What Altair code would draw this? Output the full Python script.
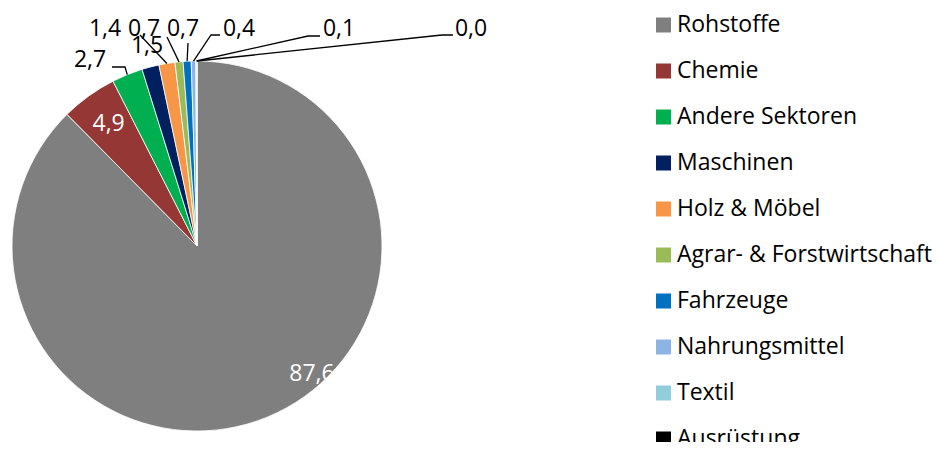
import math
import altair as alt
import pandas as pd

# ---- data ----
categories = ["Rohstoffe", "Chemie", "Andere Sektoren", "Maschinen", "Holz & Möbel",
              "Agrar- & Forstwirtschaft", "Fahrzeuge", "Nahrungsmittel", "Textil", "Ausrüstung"]
values = [87.6, 4.9, 2.7, 1.5, 1.4, 0.7, 0.7, 0.4, 0.1, 0.0]
colors = ["#7F7F7F", "#953735", "#00B050", "#002060", "#F79646",
          "#9BBB59", "#0070C0", "#8DB4E2", "#92CDDC", "#000000"]

# ---- layout (plot-area pixels) ----
W, H = 926, 434
CX, CY, R = 189, 238, 185
FONT = "Open Sans"
LEG_SYM_X, LEG_TXT_X = 655.5, 669
LEG_TOP, LEG_BOTTOM = 17, 431

# label anchor positions (Excel-style placement); None => polar inside placement
label_pos = {
    "Rohstoffe": (304, 366),
    "Chemie": None,
    "Andere Sektoren": (82, 52),
    "Maschinen": (139, 38),
    "Holz & Möbel": (97, 21),
    "Agrar- & Forstwirtschaft": (136, 21),
    "Fahrzeuge": (175, 21),
    "Nahrungsmittel": (231, 21),
    "Textil": (331, 21),
    "Ausrüstung": (463, 21),
}
# leader line start points (label side)
leader_start = {
    "Andere Sektoren": [(104, 59), (117, 59)],
    "Holz & Möbel": [(132, 27)],
    "Agrar- & Forstwirtschaft": [(159, 29)],
    "Fahrzeuge": [(180, 35)],
    "Nahrungsmittel": [(212, 27), (203, 27)],
    "Textil": [(312, 28), (300, 28)],
    "Ausrüstung": [(445, 27), (434, 27)],
}

total = sum(values)
cum = 0.0
mids = []
for v in values:
    mids.append((cum + v / 2) / total * 2 * math.pi)
    cum += v


def polar(a, r):
    return CX + r * math.sin(a), CY - r * math.cos(a)


fmt = [f"{v:.1f}".replace(".", ",") for v in values]

pie_df = pd.DataFrame({"cat": categories, "value": values, "idx": list(range(len(values)))})

lab_rows = []
for i, c in enumerate(categories):
    if label_pos[c] is None:
        x, y = polar(mids[i], 151)
    else:
        x, y = label_pos[c]
    inside = i < 2
    lab_rows.append({"cat": c, "x": x, "y": y, "t": fmt[i], "col": "white" if inside else "black"})
lab_df = pd.DataFrame(lab_rows)

line_rows = []
for i, c in enumerate(categories):
    if c in leader_start:
        pts = list(leader_start[c]) + [polar(mids[i], R)]
        for k, (x, y) in enumerate(pts):
            line_rows.append({"cat": c, "k": k, "x": x, "y": y})
line_df = pd.DataFrame(line_rows)

xs = alt.Scale(domain=[0, W], range=[0, W])
ys = alt.Scale(domain=[0, H], range=[0, H])
color_scale = alt.Scale(domain=categories, range=colors)

pie = alt.Chart(pie_df).mark_arc(radius=R, stroke="white", strokeWidth=0.8).encode(
    theta=alt.Theta("value:Q", stack=True),
    color=alt.Color("cat:N", scale=color_scale, legend=None),
    order=alt.Order("idx:Q"),
    x=alt.value(CX), y=alt.value(CY),
)

lines = alt.Chart(line_df).mark_line(color="black", strokeWidth=1.3).encode(
    x=alt.X("x:Q", scale=xs, axis=None),
    y=alt.Y("y:Q", scale=ys, axis=None),
    detail="cat:N",
    order="k:Q",
)

texts = alt.Chart(lab_df).mark_text(font=FONT, fontSize=23, baseline="middle", align="center").encode(
    x=alt.X("x:Q", scale=xs, axis=None),
    y=alt.Y("y:Q", scale=ys, axis=None),
    text="t:N",
    color=alt.Color("col:N", scale=None),
)

# legend drawn as marks so that it is clipped at the bottom edge, as in the reference
leg_y = alt.Y("cat:N", scale=alt.Scale(domain=categories, range=[LEG_TOP, LEG_BOTTOM], padding=0), axis=None)
leg_sym = alt.Chart(pie_df).mark_square(size=225, opacity=1, clip=True).encode(
    x=alt.value(LEG_SYM_X), y=leg_y,
    color=alt.Color("cat:N", scale=color_scale, legend=None),
)
leg_txt = alt.Chart(pie_df).mark_text(font=FONT, fontSize=23, align="left", baseline="middle",
                                      color="black", clip=True).encode(
    x=alt.value(LEG_TXT_X), y=leg_y, text="cat:N",
)
legend = alt.layer(leg_sym, leg_txt)

chart = (alt.layer(pie, lines, texts, legend)
         .resolve_scale(y="independent")
         .properties(width=W, height=H, padding=0)
         .configure_view(stroke=None))

chart.save("out.html", embed_options={"renderer": "svg", "actions": False})
